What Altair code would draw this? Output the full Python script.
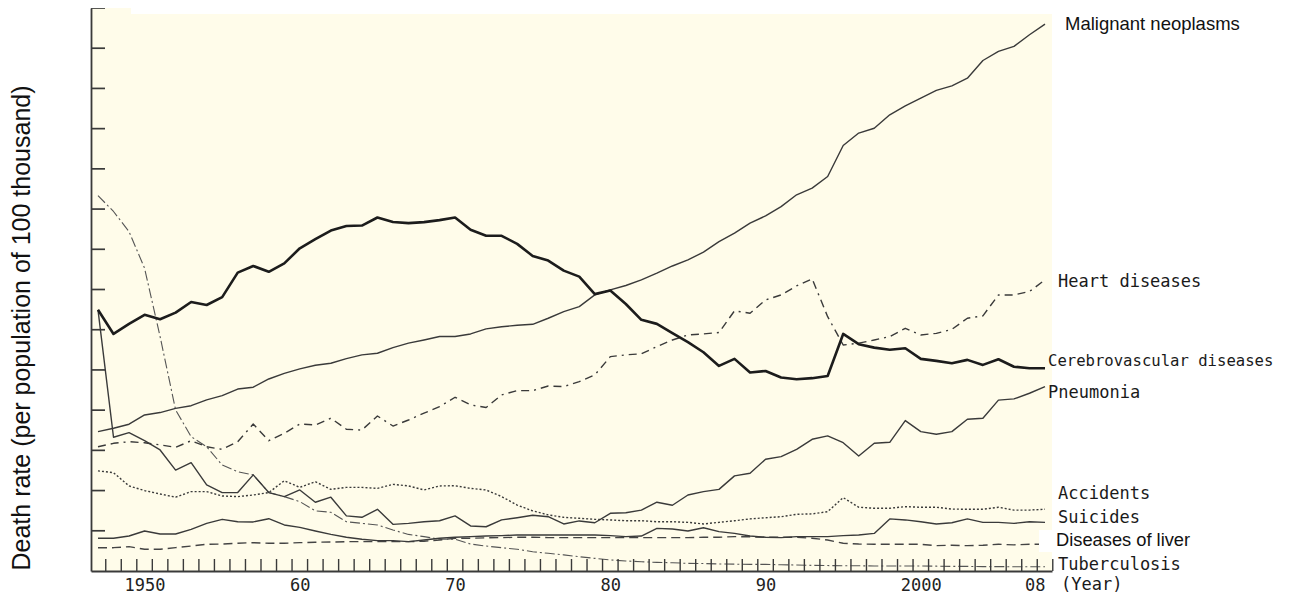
import altair as alt
import pandas as pd

years = list(range(1947, 2009))

malignant = [69.3, 71.0, 73.0, 77.6, 78.8, 80.9, 82.2, 85.1, 87.2, 90.5, 91.4, 95.5, 98.3, 100.5, 102.3, 103.3, 105.6, 107.5, 108.3, 111.1,
             113.3, 114.9, 116.6, 116.6, 117.9, 120.4, 121.5, 122.2, 122.7, 125.7, 129.0, 131.5, 137.3, 139.8, 142.0, 144.8, 148.1, 151.7,
             154.7, 158.6, 163.8, 168.0, 173.0, 176.6, 181.2, 187.1, 190.4, 196.2, 211.6, 217.8, 220.2, 226.9, 231.3, 235.2, 239.0, 241.3,
             245.1, 253.9, 258.4, 260.9, 266.7, 272.0]
heart = [61.8, 63.5, 64.3, 63.8, 62.7, 61.5, 64.8, 61.8, 60.5, 64.3, 73.1, 64.8, 68.5, 73.1, 72.6, 76.0, 70.5, 70.1, 77.1, 72.1,
         75.1, 78.5, 81.7, 86.4, 82.6, 81.3, 87.6, 89.7, 89.7, 92.0, 91.7, 94.2, 97.5, 106.6, 107.5, 108.0, 111.6, 114.9,
         117.4, 117.9, 118.6, 129.4, 128.2, 134.8, 137.3, 141.8, 145.3, 126.5, 112.4, 113.3, 114.9, 116.6, 120.7, 117.4, 118.2, 120.2,
         125.7, 126.9, 137.3, 137.3, 139.0, 144.8]
cerebro = [129.9, 117.9, 122.9, 127.4, 125.2, 128.5, 133.8, 132.3, 136.2, 148.4, 151.7, 148.8, 153.0, 160.5, 165.0, 169.3, 171.6, 171.8, 175.8, 173.6,
           173.0, 173.5, 174.5, 175.8, 169.7, 166.7, 166.7, 162.7, 156.7, 154.4, 149.4, 146.4, 137.7, 139.5, 132.8, 124.9, 122.9, 118.3,
           113.8, 108.8, 102.0, 105.5, 98.7, 99.5, 96.2, 95.4, 95.9, 97.0, 117.9, 112.8, 111.1, 110.0, 110.8, 105.5, 104.5, 103.3,
           105.0, 102.5, 105.3, 101.6, 100.8, 100.8]
pneumonia = [129.9, 66.5, 68.8, 64.8, 60.2, 50.2, 53.9, 42.8, 39.0, 39.0, 47.8, 39.0, 37.0, 40.3, 34.2, 36.7, 27.4, 26.7, 30.7, 23.2,
             23.7, 24.5, 25.0, 27.4, 22.4, 22.0, 25.4, 26.5, 27.7, 27.0, 23.4, 24.9, 24.0, 28.7, 29.0, 30.3, 34.2, 32.7,
             37.8, 39.5, 40.6, 47.3, 48.6, 55.6, 56.9, 60.5, 65.5, 67.2, 63.8, 57.2, 63.5, 64.0, 74.8, 69.3, 68.0, 69.3,
             75.5, 76.0, 85.0, 85.6, 88.4, 91.7]
accidents = [49.8, 48.9, 42.3, 40.0, 38.3, 36.7, 39.5, 39.5, 37.3, 37.0, 37.8, 39.0, 44.9, 41.6, 44.4, 40.6, 41.6, 41.6, 41.1, 43.1,
             42.3, 40.3, 42.3, 42.4, 41.1, 40.3, 37.0, 32.8, 29.9, 27.9, 26.7, 26.2, 25.7, 25.4, 25.0, 25.0, 24.5, 24.5,
             24.2, 23.4, 24.2, 25.0, 25.9, 26.5, 27.0, 28.2, 28.4, 29.5, 36.5, 31.7, 31.2, 31.2, 32.0, 31.7, 31.7, 30.8,
             30.7, 30.7, 31.7, 30.3, 30.3, 30.7]
suicides = [16.3, 16.3, 17.4, 19.9, 18.4, 18.4, 20.7, 23.7, 25.7, 24.5, 24.4, 26.0, 22.9, 21.7, 19.9, 18.2, 16.8, 15.8, 15.1, 15.1,
            14.6, 15.4, 16.3, 16.8, 17.1, 17.4, 17.6, 17.9, 17.9, 17.9, 17.9, 17.9, 17.9, 17.6, 17.1, 17.4, 21.2, 20.9,
            19.9, 21.5, 19.6, 18.7, 17.4, 16.8, 16.6, 17.1, 17.1, 17.1, 17.6, 17.9, 18.7, 25.9, 25.4, 24.5, 23.4, 24.0,
            25.9, 24.2, 24.2, 23.7, 24.5, 24.2]
liver = [11.6, 11.6, 12.1, 10.8, 10.8, 11.6, 12.4, 13.3, 13.4, 13.8, 14.1, 13.8, 13.8, 14.1, 14.3, 14.4, 14.6, 14.6, 14.6, 14.6,
         14.6, 14.8, 15.4, 16.3, 16.3, 16.5, 16.6, 16.8, 16.8, 16.6, 16.6, 16.6, 16.6, 16.6, 16.6, 16.6, 16.6, 16.6,
         16.6, 16.8, 16.8, 17.1, 17.0, 16.8, 16.8, 16.8, 16.3, 15.4, 13.8, 13.4, 13.3, 13.3, 13.3, 13.3, 12.6, 12.8,
         12.6, 12.8, 13.3, 13.0, 13.3, 13.3]
tuberculosis = [186.7, 178.8, 168.8, 150.6, 116.6, 80.1, 66.8, 61.8, 52.7, 49.4, 47.8, 39.0, 37.0, 34.5, 29.9, 29.2, 24.5, 23.7, 22.9, 20.4,
                18.2, 17.1, 15.8, 15.8, 13.4, 12.4, 11.6, 10.8, 9.6, 8.8, 8.0, 7.1, 6.3, 5.5, 5.0, 4.6, 4.3, 4.1,
                3.8, 3.7, 3.5, 3.4, 3.3, 3.3, 3.1, 3.0, 2.8, 2.7, 2.6, 2.6, 2.5, 2.5, 2.5, 2.5, 2.4, 2.3,
                2.3, 2.2, 2.2, 2.1, 2.1, 2.1]

x_label_years = [1950, 1960, 1970, 1980, 1990, 2000, 2008]
x_label_texts = ["1950", "60", "70", "80", "90", "2000", "08"]
y_tick_values = list(range(20, 281, 20))
x_tick_values = [y + 0.5 for y in range(1947, 2009)]

series = {
    "Tuberculosis": tuberculosis,
    "Diseases of liver": liver,
    "Suicides": suicides,
    "Accidents": accidents,
    "Pneumonia": pneumonia,
    "Heart diseases": heart,
    "Malignant neoplasms": malignant,
    "Cerebrovascular diseases": cerebro,
}

rows = []
for name, vals in series.items():
    for yr, v in zip(years, vals):
        rows.append({"year": yr, "cause": name, "value": v})
df = pd.DataFrame(rows)

W, H = 961, 563
xscale = alt.Scale(domain=[1946.55, 2008.45], nice=False, zero=False)
yscale = alt.Scale(domain=[0, 280], nice=False, zero=True)

styles = {
    "Tuberculosis": dict(color="#555555", strokeWidth=1.1, strokeDash=[10, 3, 2, 3]),
    "Diseases of liver": dict(color="#444444", strokeWidth=1.4, strokeDash=[9, 5]),
    "Suicides": dict(color="#3a3a3a", strokeWidth=1.4),
    "Accidents": dict(color="#3a3a3a", strokeWidth=1.4, strokeDash=[2, 2]),
    "Pneumonia": dict(color="#3a3a3a", strokeWidth=1.4),
    "Heart diseases": dict(color="#3a3a3a", strokeWidth=1.4, strokeDash=[8, 5, 8, 5, 2, 5]),
    "Malignant neoplasms": dict(color="#3a3a3a", strokeWidth=1.4),
    "Cerebrovascular diseases": dict(color="#1c1c1c", strokeWidth=2.6),
}

x_expr = " : ".join(
    f"datum.value == {v} ? '{t}'" for v, t in zip(x_label_years, x_label_texts)
) + " : ''"

AXIS_X = dict(values=x_label_years, labelExpr=x_expr, ticks=False, grid=False,
              domainColor="#3a3a3a", domainWidth=1.8, labelFont="DejaVu Sans Mono",
              labelFontSize=17, labelColor="#222222", labelPadding=6, title=None,
              labelOverlap=False, labelFlush=10)
AXIS_Y = dict(ticks=False, labels=False, grid=False, domainColor="#3a3a3a",
              domainWidth=1.8, title=None)

layers = []
for name in series:
    st = styles[name]
    layers.append(
        alt.Chart(df).transform_filter(alt.datum.cause == name)
        .mark_line(strokeJoin="round", **st)
        .encode(x=alt.X("year:Q", scale=xscale, axis=alt.Axis(**AXIS_X)),
                y=alt.Y("value:Q", scale=yscale, axis=alt.Axis(**AXIS_Y)))
    )

ytick_df = pd.DataFrame({"v": y_tick_values})
xtick_df = pd.DataFrame({"t": x_tick_values})
yticks = alt.Chart(ytick_df).mark_rule(color="#3a3a3a", strokeWidth=1.7).encode(
    y=alt.Y("v:Q", scale=yscale, axis=alt.Axis(**AXIS_Y)), x=alt.value(0), x2=alt.value(14))
xticks = alt.Chart(xtick_df).mark_rule(color="#3a3a3a", strokeWidth=1.4).encode(
    x=alt.X("t:Q", scale=xscale, axis=alt.Axis(**AXIS_X)), y=alt.value(H - 12), y2=alt.value(H))

one = pd.DataFrame({"a": [0]})
white_top = alt.Chart(one).mark_rect(color="white").encode(
    x=alt.value(40), x2=alt.value(W + 2), y=alt.value(0), y2=alt.value(6))
white_box = alt.Chart(one).mark_rect(color="white").encode(
    x=alt.value(948), x2=alt.value(970), y=alt.value(522), y2=alt.value(544))


def label(text, x, y, font, size, color="#1a1a1a", angle=None, align="left"):
    kw = dict(align=align, baseline="middle", font=font, fontSize=size, color=color)
    if angle is not None:
        kw["angle"] = angle
    return alt.Chart(pd.DataFrame({"t": [text]})).mark_text(**kw).encode(
        x=alt.value(x), y=alt.value(y), text="t:N")


MONO = "DejaVu Sans Mono"
SANS = "Liberation Sans"
labels = [
    label("Malignant neoplasms", 974, 16, SANS, 18.5, "#111111"),
    label("Heart diseases", 967, 274, MONO, 17),
    label("Cerebrovascular diseases", 957, 353, MONO, 15.6),
    label("Pneumonia", 957, 385, MONO, 17),
    label("Accidents", 967, 486, MONO, 17),
    label("Suicides", 967, 510, MONO, 17),
    label("Diseases of liver", 965, 533, SANS, 18.3, "#111111"),
    label("Tuberculosis", 967, 557, MONO, 17),
    label("(Year)", 970, 577, MONO, 17),
    label("Death rate (per population of 100 thousand)", -69, 320, SANS, 25, "#111111",
          angle=270, align="center"),
]

chart = alt.layer(
    white_top, *layers, xticks, yticks, white_box, *labels
).properties(
    width=W, height=H,
    autosize=alt.AutoSizeParams(type="none"),
    padding={"left": 83, "top": 0, "right": 225, "bottom": 22},
).configure_view(fill="#FFFCEA", stroke=None)

chart.save("out.html", embed_options={"renderer": "svg", "actions": False})
